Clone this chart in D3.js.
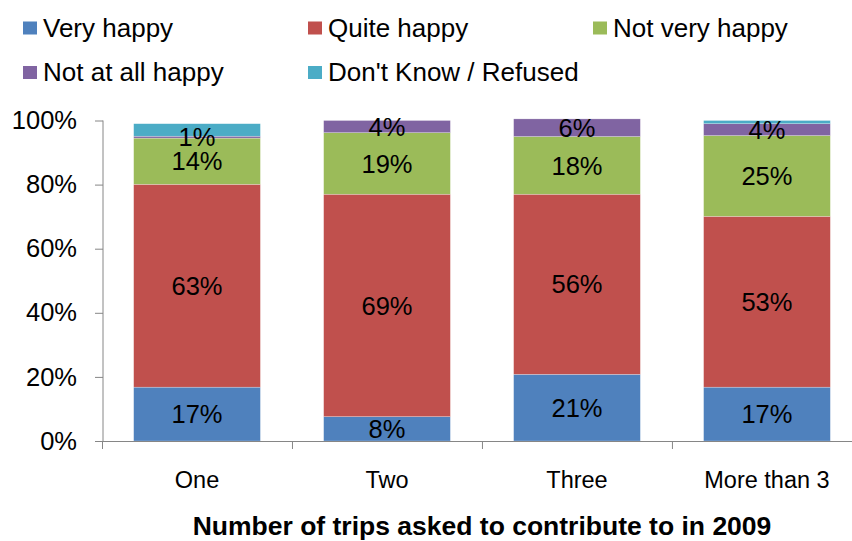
<!DOCTYPE html>
<html>
<head>
<meta charset="utf-8">
<script src="https://cdn.jsdelivr.net/npm/d3@7/dist/d3.min.js"></script>
<style>
  html, body { margin: 0; padding: 0; background: #ffffff; }
  svg { display: block; font-family: "Liberation Sans", Arial, sans-serif; }
</style>
</head>
<body>
<svg id="chart" width="852" height="541"></svg>
<script>
// ---- data ----
const categories = ["One", "Two", "Three", "More than 3"];
const seriesNames = ["Very happy", "Quite happy", "Not very happy", "Not at all happy", "Don't Know / Refused"];
const veryHappy     = [16.8, 7.6, 20.8, 16.8];
const quiteHappy    = [63.3, 69.4, 56.2, 53.3];
const notVeryHappy  = [14.4, 19.2, 18.0, 25.2];
const notAtAllHappy = [0.6, 3.8, 5.5, 3.7];
const dontKnow      = [3.9, 0, 0, 1.0];
const yTicks = [0, 20, 40, 60, 80, 100];
const xTitle = "Number of trips asked to contribute to in 2009";

const colors = ["#4F81BD", "#C0504D", "#9BBB59", "#8064A2", "#4BACC6"];
const showLabel = [true, true, true, true, false];
const seriesValues = [veryHappy, quiteHappy, notVeryHappy, notAtAllHappy, dontKnow];

const rows = categories.map((c, i) => {
  const r = { cat: c };
  seriesNames.forEach((s, k) => { r[s] = seriesValues[k][i]; });
  return r;
});
const stacked = d3.stack().keys(seriesNames)(rows);

const svg = d3.select("#chart");
const x = d3.scaleBand().domain(categories).range([102, 862]).paddingInner(0.333).paddingOuter(0.1667);
const y = d3.scaleLinear().domain([0, 100]).range([441, 120.5]);

const axisColor = "#868686";

// bars
const layers = svg.append("g").selectAll("g").data(stacked).join("g")
  .attr("fill", (d, i) => colors[i]);
layers.selectAll("rect").data(d => d).join("rect")
  .attr("x", d => x(d.data.cat))
  .attr("width", x.bandwidth())
  .attr("y", d => y(d[1]))
  .attr("height", d => Math.max(0, y(d[0]) - y(d[1])))
  .attr("stroke", "#ffffff").attr("stroke-opacity", 0.5).attr("stroke-width", 0.5);

// data labels
stacked.forEach((layer, k) => {
  if (!showLabel[k]) return;
  svg.append("g").selectAll("text").data(layer.filter(d => d[1] - d[0] > 0)).join("text")
    .attr("x", d => x(d.data.cat) + x.bandwidth() / 2)
    .attr("y", d => y((d[0] + d[1]) / 2))
    .attr("dy", "0.36em")
    .attr("text-anchor", "middle")
    .attr("font-size", "25.5px")
    .attr("fill", "#000")
    .text(d => Math.round(d[1] - d[0]) + "%");
});

// y axis
const yAxis = d3.axisLeft(y).tickValues(yTicks).tickFormat(d => d + "%").tickSize(8).tickPadding(18);
const gy = svg.append("g").attr("transform", "translate(103,0)").call(yAxis);
gy.select(".domain").attr("stroke", axisColor).attr("d", "M0," + y(100) + "V" + y(0));
gy.selectAll(".tick line").attr("stroke", axisColor);
gy.selectAll(".tick text").attr("font-size", "25.5px").attr("fill", "#000")
  .attr("font-family", "Liberation Sans, Arial, sans-serif");

// x axis: line + boundary ticks
const step = x.step();
const x0 = x.range()[0];
svg.append("line").attr("x1", x0).attr("x2", 852).attr("y1", y(0) + 0.5).attr("y2", y(0) + 0.5)
  .attr("stroke", axisColor);
svg.append("g").selectAll("line").data(categories).join("line")
  .attr("x1", (d, i) => x0 + i * step + 0.5).attr("x2", (d, i) => x0 + i * step + 0.5)
  .attr("y1", y(0)).attr("y2", y(0) + 8).attr("stroke", axisColor);
svg.append("g").selectAll("text").data(categories).join("text")
  .attr("x", d => x(d) + x.bandwidth() / 2)
  .attr("y", 488)
  .attr("text-anchor", "middle")
  .attr("font-size", "23.5px")
  .attr("fill", "#000")
  .text(d => d);

// x title
svg.append("text").attr("x", 482).attr("y", 535).attr("text-anchor", "middle")
  .attr("font-size", "26.5px").attr("font-weight", "bold").attr("fill", "#000")
  .text(xTitle);

// legend
const legendPos = [[23, 0], [308, 0], [593, 0], [23, 1], [308, 1]];
const lg = svg.append("g").selectAll("g").data(seriesNames).join("g")
  .attr("transform", (d, i) => "translate(" + legendPos[i][0] + "," + (legendPos[i][1] * 44.5) + ")");
lg.append("rect").attr("x", 0).attr("y", 21.5).attr("width", 14).attr("height", 13)
  .attr("fill", (d, i) => colors[i]);
lg.append("text").attr("x", 20).attr("y", 36.5).attr("font-size", "26px").attr("fill", "#000")
  .text(d => d);
</script>
</body>
</html>
